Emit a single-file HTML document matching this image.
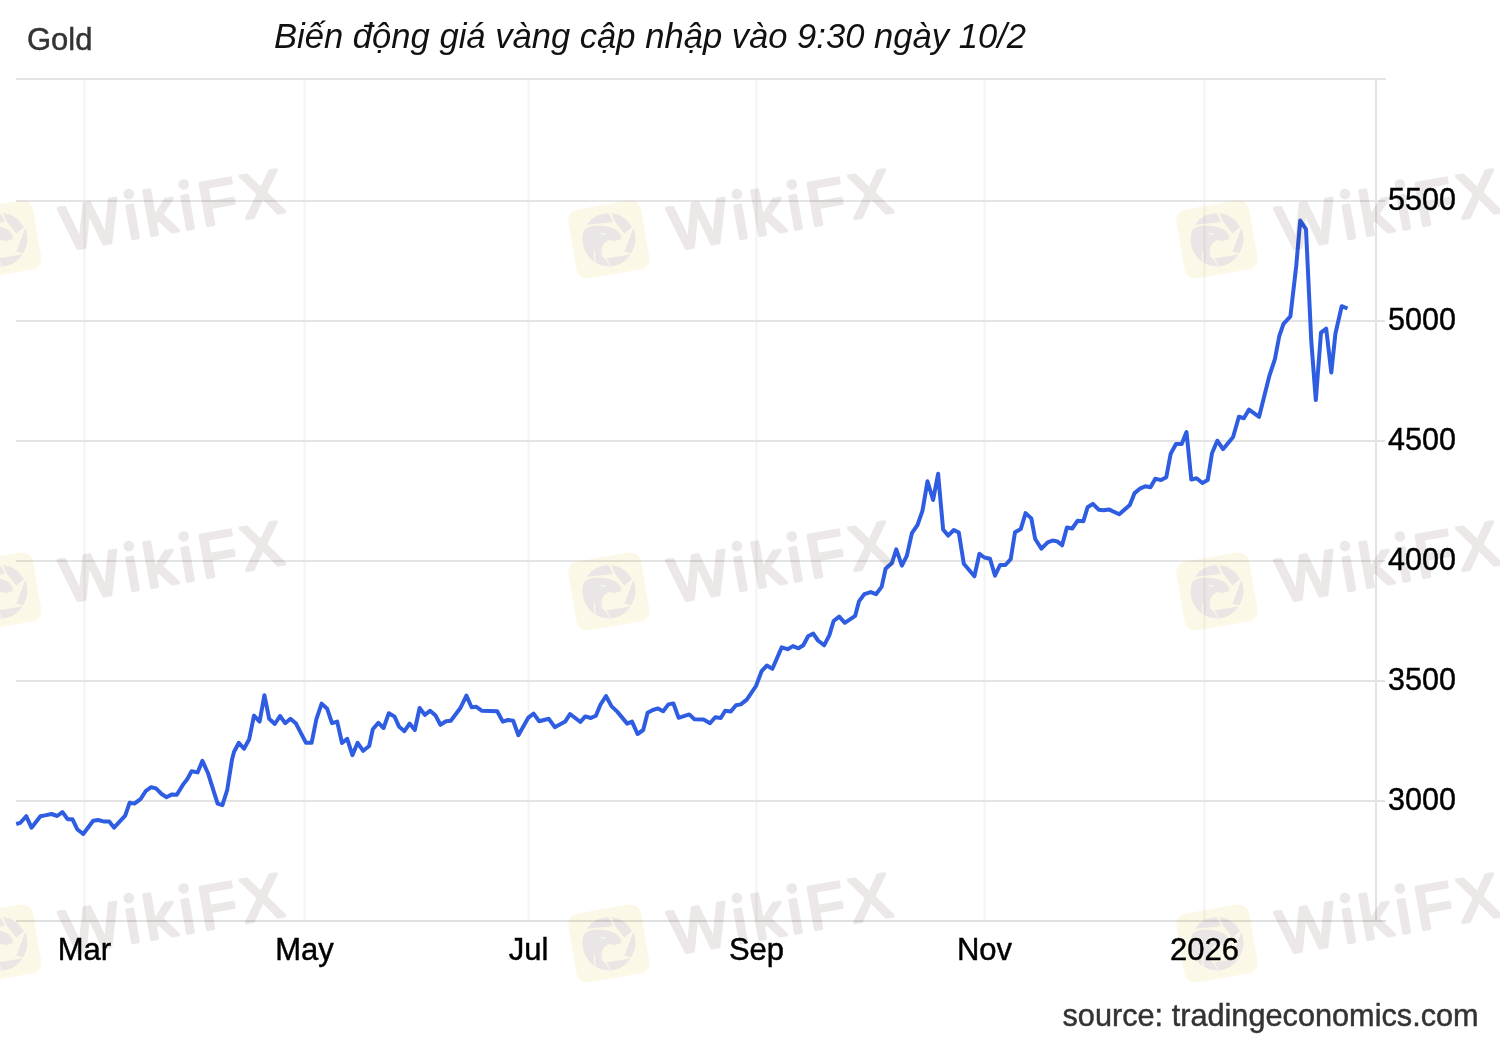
<!DOCTYPE html>
<html><head><meta charset="utf-8"><style>
html,body{margin:0;padding:0;background:#fff;width:1500px;height:1040px;overflow:hidden}
svg{display:block}
text{font-family:"Liberation Sans",sans-serif}
</style></head><body>
<svg width="1500" height="1040" viewBox="0 0 1500 1040">
<rect width="1500" height="1040" fill="#fff"/>
<rect x="83.5" y="80" width="2" height="840" fill="#f2f3f3"/>
<rect x="303.5" y="80" width="2" height="840" fill="#f2f3f3"/>
<rect x="527.5" y="80" width="2" height="840" fill="#f2f3f3"/>
<rect x="755.5" y="80" width="2" height="840" fill="#f2f3f3"/>
<rect x="983.5" y="80" width="2" height="840" fill="#f2f3f3"/>
<rect x="1203.5" y="80" width="2" height="840" fill="#f2f3f3"/>
<rect x="1375" y="80" width="2" height="842" fill="#e3e3e3"/>
<rect x="16" y="78" width="1370" height="2" fill="#e5e5e5"/>
<rect x="16" y="200.0" width="1369" height="2" fill="#e4e4e4"/>
<rect x="16" y="320.0" width="1369" height="2" fill="#e4e4e4"/>
<rect x="16" y="440.0" width="1369" height="2" fill="#e4e4e4"/>
<rect x="16" y="560.0" width="1369" height="2" fill="#e4e4e4"/>
<rect x="16" y="680.0" width="1369" height="2" fill="#e4e4e4"/>
<rect x="16" y="800.0" width="1369" height="2" fill="#e4e4e4"/>
<rect x="16" y="920" width="1370" height="2" fill="#e0e0e0"/>
<text x="27" y="50" font-size="31" fill="#333" stroke="#333" stroke-width="0.45">Gold</text>
<text x="274" y="48" font-size="35" font-style="italic" fill="#111" textLength="752" lengthAdjust="spacingAndGlyphs">Biến động giá vàng cập nhập vào 9:30 ngày 10/2</text>
<text x="1388" y="210.2" font-size="30.5" fill="#000" stroke="#000" stroke-width="0.45">5500</text>
<text x="1388" y="330.2" font-size="30.5" fill="#000" stroke="#000" stroke-width="0.45">5000</text>
<text x="1388" y="450.2" font-size="30.5" fill="#000" stroke="#000" stroke-width="0.45">4500</text>
<text x="1388" y="570.2" font-size="30.5" fill="#000" stroke="#000" stroke-width="0.45">4000</text>
<text x="1388" y="690.2" font-size="30.5" fill="#000" stroke="#000" stroke-width="0.45">3500</text>
<text x="1388" y="810.2" font-size="30.5" fill="#000" stroke="#000" stroke-width="0.45">3000</text>
<text x="84.5" y="960" font-size="31" fill="#000" stroke="#000" stroke-width="0.45" text-anchor="middle">Mar</text>
<text x="304.5" y="960" font-size="31" fill="#000" stroke="#000" stroke-width="0.45" text-anchor="middle">May</text>
<text x="528.5" y="960" font-size="31" fill="#000" stroke="#000" stroke-width="0.45" text-anchor="middle">Jul</text>
<text x="756.5" y="960" font-size="31" fill="#000" stroke="#000" stroke-width="0.45" text-anchor="middle">Sep</text>
<text x="984.5" y="960" font-size="31" fill="#000" stroke="#000" stroke-width="0.45" text-anchor="middle">Nov</text>
<text x="1204.5" y="960" font-size="31" fill="#000" stroke="#000" stroke-width="0.45" text-anchor="middle">2026</text>
<text x="1062.5" y="1026" font-size="30.7" fill="#333" stroke="#333" stroke-width="0.45">source: tradingeconomics.com</text>
<path d="M16.2 824.0 L20.4 822.8 L26.2 816.2 L31.5 827.7 L40.4 816.2 L45.0 815.4 L51.6 814.0 L57.2 816.0 L62.4 812.0 L67.6 819.2 L72.4 819.2 L77.2 829.2 L83.2 834.0 L93.2 820.8 L98.0 820.0 L104.4 821.6 L109.2 821.6 L114.0 827.6 L125.2 815.6 L129.6 802.8 L134.4 803.6 L140.8 798.8 L145.6 791.2 L151.2 787.2 L156.0 788.4 L161.6 794.0 L166.4 797.2 L172.0 794.4 L176.8 794.8 L183.2 784.4 L187.2 779.2 L191.6 771.2 L197.6 772.4 L202.4 760.8 L208.0 773.2 L217.6 803.6 L222.4 805.2 L227.2 790.0 L232.0 759.6 L234.0 752.0 L238.8 742.8 L244.0 748.8 L249.2 739.2 L254.0 715.6 L259.6 721.6 L264.4 695.2 L269.2 718.8 L274.8 724.0 L280.0 716.0 L285.2 723.2 L290.4 718.8 L296.0 723.6 L306.0 742.8 L311.6 742.8 L316.4 719.2 L321.6 703.6 L327.2 708.8 L332.0 723.2 L337.2 721.6 L342.0 743.0 L347.2 738.8 L352.4 755.2 L357.6 742.8 L363.2 750.8 L369.2 746.0 L372.8 729.2 L378.4 722.8 L383.6 728.0 L388.8 713.2 L394.4 716.4 L399.2 726.8 L404.4 731.2 L409.6 723.6 L414.8 730.0 L419.6 708.0 L424.8 714.8 L430.0 710.8 L435.6 715.6 L440.4 724.8 L446.0 721.2 L450.8 720.8 L460.4 708.0 L466.4 695.6 L471.6 707.2 L476.4 706.8 L482.0 710.8 L497.2 711.2 L502.8 721.6 L508.0 720.0 L513.2 720.8 L518.4 735.2 L528.4 717.6 L533.6 713.6 L539.2 721.2 L548.8 718.8 L554.8 727.2 L565.2 721.6 L570.0 714.0 L580.4 722.0 L585.2 716.4 L590.8 718.0 L596.0 715.6 L600.4 704.8 L606.0 696.0 L611.6 706.4 L617.2 711.6 L627.2 723.6 L632.0 721.6 L637.6 734.0 L643.2 730.0 L647.6 712.8 L652.8 710.0 L658.0 708.4 L663.2 711.2 L668.4 704.4 L673.4 703.4 L678.6 717.8 L689.2 714.4 L694.4 719.2 L703.6 719.6 L710.0 723.2 L715.2 717.2 L720.8 718.0 L725.2 710.8 L730.8 711.6 L736.0 705.2 L740.8 704.4 L746.8 699.6 L756.0 686.0 L761.6 671.2 L766.8 665.6 L772.4 668.8 L781.7 647.4 L787.7 649.2 L792.9 646.1 L798.5 648.3 L803.3 645.3 L808.1 636.2 L813.3 633.6 L818.0 640.5 L824.1 645.3 L829.3 635.3 L833.6 621.0 L839.2 616.7 L844.8 622.8 L855.2 615.8 L859.1 601.1 L864.3 594.2 L870.8 592.1 L876.0 594.2 L881.6 586.9 L885.6 568.8 L891.9 563.1 L896.3 549.4 L901.9 565.6 L906.9 555.6 L911.9 533.1 L917.5 525.0 L922.5 510.6 L927.5 481.3 L933.1 500.0 L938.1 473.8 L943.1 529.4 L948.1 535.6 L953.8 530.0 L958.8 532.5 L963.8 563.8 L974.4 576.3 L979.4 553.8 L984.4 557.5 L990.0 558.8 L995.0 575.6 L1000.1 565.0 L1005.4 565.0 L1010.7 559.2 L1015.0 532.3 L1020.8 528.9 L1025.6 513.1 L1031.3 518.4 L1035.2 539.0 L1041.4 548.7 L1047.7 542.4 L1052.5 540.5 L1057.3 541.4 L1062.1 545.3 L1066.9 527.5 L1072.2 528.5 L1077.5 520.8 L1083.3 521.3 L1087.6 507.3 L1092.9 503.9 L1098.7 509.7 L1103.5 510.2 L1108.7 509.4 L1119.2 514.2 L1129.8 505.1 L1134.6 493.1 L1140.4 488.3 L1145.2 486.3 L1150.5 487.3 L1155.3 478.7 L1161.1 480.1 L1166.3 477.2 L1170.7 453.7 L1176.0 444.0 L1181.7 444.0 L1186.5 432.0 L1191.3 479.6 L1196.6 478.2 L1202.4 483.0 L1207.7 480.1 L1212.0 453.2 L1217.3 440.7 L1223.0 449.2 L1233.1 437.0 L1238.9 416.8 L1243.9 418.2 L1249.0 409.6 L1259.1 416.8 L1269.2 376.4 L1274.9 359.1 L1279.3 336.0 L1283.5 323.8 L1290.4 316.3 L1296.2 266.2 L1300.2 220.6 L1306.0 229.2 L1311.2 340.0 L1315.8 400.0 L1321.0 332.7 L1326.2 328.7 L1331.3 372.5 L1335.4 333.8 L1341.7 306.2 L1347.5 308.5" fill="none" stroke="#2f5de2" stroke-width="4" stroke-linejoin="round" stroke-linecap="butt"/>
<g transform="translate(0.7 239.5)" style="mix-blend-mode:multiply">
  <g transform="rotate(-9.7)"><rect x="-37" y="-35" width="74" height="70" rx="11" fill="#fcf8e8"/></g>
  <g fill="#eae6e5" transform="translate(0.6 0.5)">
    <path d="M-25.1 -10.2 L-20.8 -13.3 L-12.1 -14.4 L-3.5 -13.8 L2.9 -12.1 L8.1 -9.2 L11 -5.2 L12.1 -1.2 L5.2 1.2 L-1.2 0.6 L-5.2 3.5 L-7.5 7.5 L-8.1 11.5 L-6.9 16.2 L-3.5 20.2 L0.6 26.5 A27 27 0 0 1 -25.1 -10.2 Z"/>
    <path d="M-22.6 -15.2 A27 27 0 0 1 -1.2 -27 L3.5 -19 L1.7 -17.6 Z"/>
    <path d="M1.7 -27 A27 27 0 0 1 22.5 -13 L15 -6.3 L5.2 -19 Z"/>
    <path d="M23.7 -11.8 A27 27 0 0 1 21.9 13.2 L15 12.1 Z"/>
    <path d="M21.3 14.2 A27 27 0 0 1 1.7 26.6 L-3.5 18.5 Z"/>
    <g stroke="#fcf8e8" fill="none" stroke-width="1.1"><path d="M-8.8 -6.8 L-3.6 -5.6"/><path d="M-15 10.4 L-14.4 24.8"/><path d="M-1.2 0.8 L6 1.5"/></g>
  </g>
  <g transform="rotate(-10)" fill="#ebe8e7"><text x="62" y="22" dx="0 -1.7 -1.7 -1.7 -1.7 0" font-family="Liberation Sans" font-weight="normal" font-size="62" letter-spacing="5.5" stroke="#ebe8e7" stroke-width="3.5" stroke-linejoin="round" stroke-linecap="round">WıkıFX</text><circle cx="134" cy="-22.5" r="5.3"/><circle cx="189.8" cy="-22.5" r="5.3"/></g>
</g>
<g transform="translate(0.7 591.5)" style="mix-blend-mode:multiply">
  <g transform="rotate(-9.7)"><rect x="-37" y="-35" width="74" height="70" rx="11" fill="#fcf8e8"/></g>
  <g fill="#eae6e5" transform="translate(0.6 0.5)">
    <path d="M-25.1 -10.2 L-20.8 -13.3 L-12.1 -14.4 L-3.5 -13.8 L2.9 -12.1 L8.1 -9.2 L11 -5.2 L12.1 -1.2 L5.2 1.2 L-1.2 0.6 L-5.2 3.5 L-7.5 7.5 L-8.1 11.5 L-6.9 16.2 L-3.5 20.2 L0.6 26.5 A27 27 0 0 1 -25.1 -10.2 Z"/>
    <path d="M-22.6 -15.2 A27 27 0 0 1 -1.2 -27 L3.5 -19 L1.7 -17.6 Z"/>
    <path d="M1.7 -27 A27 27 0 0 1 22.5 -13 L15 -6.3 L5.2 -19 Z"/>
    <path d="M23.7 -11.8 A27 27 0 0 1 21.9 13.2 L15 12.1 Z"/>
    <path d="M21.3 14.2 A27 27 0 0 1 1.7 26.6 L-3.5 18.5 Z"/>
    <g stroke="#fcf8e8" fill="none" stroke-width="1.1"><path d="M-8.8 -6.8 L-3.6 -5.6"/><path d="M-15 10.4 L-14.4 24.8"/><path d="M-1.2 0.8 L6 1.5"/></g>
  </g>
  <g transform="rotate(-10)" fill="#ebe8e7"><text x="62" y="22" dx="0 -1.7 -1.7 -1.7 -1.7 0" font-family="Liberation Sans" font-weight="normal" font-size="62" letter-spacing="5.5" stroke="#ebe8e7" stroke-width="3.5" stroke-linejoin="round" stroke-linecap="round">WıkıFX</text><circle cx="134" cy="-22.5" r="5.3"/><circle cx="189.8" cy="-22.5" r="5.3"/></g>
</g>
<g transform="translate(0.7 943.5)" style="mix-blend-mode:multiply">
  <g transform="rotate(-9.7)"><rect x="-37" y="-35" width="74" height="70" rx="11" fill="#fcf8e8"/></g>
  <g fill="#eae6e5" transform="translate(0.6 0.5)">
    <path d="M-25.1 -10.2 L-20.8 -13.3 L-12.1 -14.4 L-3.5 -13.8 L2.9 -12.1 L8.1 -9.2 L11 -5.2 L12.1 -1.2 L5.2 1.2 L-1.2 0.6 L-5.2 3.5 L-7.5 7.5 L-8.1 11.5 L-6.9 16.2 L-3.5 20.2 L0.6 26.5 A27 27 0 0 1 -25.1 -10.2 Z"/>
    <path d="M-22.6 -15.2 A27 27 0 0 1 -1.2 -27 L3.5 -19 L1.7 -17.6 Z"/>
    <path d="M1.7 -27 A27 27 0 0 1 22.5 -13 L15 -6.3 L5.2 -19 Z"/>
    <path d="M23.7 -11.8 A27 27 0 0 1 21.9 13.2 L15 12.1 Z"/>
    <path d="M21.3 14.2 A27 27 0 0 1 1.7 26.6 L-3.5 18.5 Z"/>
    <g stroke="#fcf8e8" fill="none" stroke-width="1.1"><path d="M-8.8 -6.8 L-3.6 -5.6"/><path d="M-15 10.4 L-14.4 24.8"/><path d="M-1.2 0.8 L6 1.5"/></g>
  </g>
  <g transform="rotate(-10)" fill="#ebe8e7"><text x="62" y="22" dx="0 -1.7 -1.7 -1.7 -1.7 0" font-family="Liberation Sans" font-weight="normal" font-size="62" letter-spacing="5.5" stroke="#ebe8e7" stroke-width="3.5" stroke-linejoin="round" stroke-linecap="round">WıkıFX</text><circle cx="134" cy="-22.5" r="5.3"/><circle cx="189.8" cy="-22.5" r="5.3"/></g>
</g>
<g transform="translate(608.8 239.5)" style="mix-blend-mode:multiply">
  <g transform="rotate(-9.7)"><rect x="-37" y="-35" width="74" height="70" rx="11" fill="#fcf8e8"/></g>
  <g fill="#eae6e5" transform="translate(0.6 0.5)">
    <path d="M-25.1 -10.2 L-20.8 -13.3 L-12.1 -14.4 L-3.5 -13.8 L2.9 -12.1 L8.1 -9.2 L11 -5.2 L12.1 -1.2 L5.2 1.2 L-1.2 0.6 L-5.2 3.5 L-7.5 7.5 L-8.1 11.5 L-6.9 16.2 L-3.5 20.2 L0.6 26.5 A27 27 0 0 1 -25.1 -10.2 Z"/>
    <path d="M-22.6 -15.2 A27 27 0 0 1 -1.2 -27 L3.5 -19 L1.7 -17.6 Z"/>
    <path d="M1.7 -27 A27 27 0 0 1 22.5 -13 L15 -6.3 L5.2 -19 Z"/>
    <path d="M23.7 -11.8 A27 27 0 0 1 21.9 13.2 L15 12.1 Z"/>
    <path d="M21.3 14.2 A27 27 0 0 1 1.7 26.6 L-3.5 18.5 Z"/>
    <g stroke="#fcf8e8" fill="none" stroke-width="1.1"><path d="M-8.8 -6.8 L-3.6 -5.6"/><path d="M-15 10.4 L-14.4 24.8"/><path d="M-1.2 0.8 L6 1.5"/></g>
  </g>
  <g transform="rotate(-10)" fill="#ebe8e7"><text x="62" y="22" dx="0 -1.7 -1.7 -1.7 -1.7 0" font-family="Liberation Sans" font-weight="normal" font-size="62" letter-spacing="5.5" stroke="#ebe8e7" stroke-width="3.5" stroke-linejoin="round" stroke-linecap="round">WıkıFX</text><circle cx="134" cy="-22.5" r="5.3"/><circle cx="189.8" cy="-22.5" r="5.3"/></g>
</g>
<g transform="translate(608.8 591.5)" style="mix-blend-mode:multiply">
  <g transform="rotate(-9.7)"><rect x="-37" y="-35" width="74" height="70" rx="11" fill="#fcf8e8"/></g>
  <g fill="#eae6e5" transform="translate(0.6 0.5)">
    <path d="M-25.1 -10.2 L-20.8 -13.3 L-12.1 -14.4 L-3.5 -13.8 L2.9 -12.1 L8.1 -9.2 L11 -5.2 L12.1 -1.2 L5.2 1.2 L-1.2 0.6 L-5.2 3.5 L-7.5 7.5 L-8.1 11.5 L-6.9 16.2 L-3.5 20.2 L0.6 26.5 A27 27 0 0 1 -25.1 -10.2 Z"/>
    <path d="M-22.6 -15.2 A27 27 0 0 1 -1.2 -27 L3.5 -19 L1.7 -17.6 Z"/>
    <path d="M1.7 -27 A27 27 0 0 1 22.5 -13 L15 -6.3 L5.2 -19 Z"/>
    <path d="M23.7 -11.8 A27 27 0 0 1 21.9 13.2 L15 12.1 Z"/>
    <path d="M21.3 14.2 A27 27 0 0 1 1.7 26.6 L-3.5 18.5 Z"/>
    <g stroke="#fcf8e8" fill="none" stroke-width="1.1"><path d="M-8.8 -6.8 L-3.6 -5.6"/><path d="M-15 10.4 L-14.4 24.8"/><path d="M-1.2 0.8 L6 1.5"/></g>
  </g>
  <g transform="rotate(-10)" fill="#ebe8e7"><text x="62" y="22" dx="0 -1.7 -1.7 -1.7 -1.7 0" font-family="Liberation Sans" font-weight="normal" font-size="62" letter-spacing="5.5" stroke="#ebe8e7" stroke-width="3.5" stroke-linejoin="round" stroke-linecap="round">WıkıFX</text><circle cx="134" cy="-22.5" r="5.3"/><circle cx="189.8" cy="-22.5" r="5.3"/></g>
</g>
<g transform="translate(608.8 943.5)" style="mix-blend-mode:multiply">
  <g transform="rotate(-9.7)"><rect x="-37" y="-35" width="74" height="70" rx="11" fill="#fcf8e8"/></g>
  <g fill="#eae6e5" transform="translate(0.6 0.5)">
    <path d="M-25.1 -10.2 L-20.8 -13.3 L-12.1 -14.4 L-3.5 -13.8 L2.9 -12.1 L8.1 -9.2 L11 -5.2 L12.1 -1.2 L5.2 1.2 L-1.2 0.6 L-5.2 3.5 L-7.5 7.5 L-8.1 11.5 L-6.9 16.2 L-3.5 20.2 L0.6 26.5 A27 27 0 0 1 -25.1 -10.2 Z"/>
    <path d="M-22.6 -15.2 A27 27 0 0 1 -1.2 -27 L3.5 -19 L1.7 -17.6 Z"/>
    <path d="M1.7 -27 A27 27 0 0 1 22.5 -13 L15 -6.3 L5.2 -19 Z"/>
    <path d="M23.7 -11.8 A27 27 0 0 1 21.9 13.2 L15 12.1 Z"/>
    <path d="M21.3 14.2 A27 27 0 0 1 1.7 26.6 L-3.5 18.5 Z"/>
    <g stroke="#fcf8e8" fill="none" stroke-width="1.1"><path d="M-8.8 -6.8 L-3.6 -5.6"/><path d="M-15 10.4 L-14.4 24.8"/><path d="M-1.2 0.8 L6 1.5"/></g>
  </g>
  <g transform="rotate(-10)" fill="#ebe8e7"><text x="62" y="22" dx="0 -1.7 -1.7 -1.7 -1.7 0" font-family="Liberation Sans" font-weight="normal" font-size="62" letter-spacing="5.5" stroke="#ebe8e7" stroke-width="3.5" stroke-linejoin="round" stroke-linecap="round">WıkıFX</text><circle cx="134" cy="-22.5" r="5.3"/><circle cx="189.8" cy="-22.5" r="5.3"/></g>
</g>
<g transform="translate(1216.9 239.5)" style="mix-blend-mode:multiply">
  <g transform="rotate(-9.7)"><rect x="-37" y="-35" width="74" height="70" rx="11" fill="#fcf8e8"/></g>
  <g fill="#eae6e5" transform="translate(0.6 0.5)">
    <path d="M-25.1 -10.2 L-20.8 -13.3 L-12.1 -14.4 L-3.5 -13.8 L2.9 -12.1 L8.1 -9.2 L11 -5.2 L12.1 -1.2 L5.2 1.2 L-1.2 0.6 L-5.2 3.5 L-7.5 7.5 L-8.1 11.5 L-6.9 16.2 L-3.5 20.2 L0.6 26.5 A27 27 0 0 1 -25.1 -10.2 Z"/>
    <path d="M-22.6 -15.2 A27 27 0 0 1 -1.2 -27 L3.5 -19 L1.7 -17.6 Z"/>
    <path d="M1.7 -27 A27 27 0 0 1 22.5 -13 L15 -6.3 L5.2 -19 Z"/>
    <path d="M23.7 -11.8 A27 27 0 0 1 21.9 13.2 L15 12.1 Z"/>
    <path d="M21.3 14.2 A27 27 0 0 1 1.7 26.6 L-3.5 18.5 Z"/>
    <g stroke="#fcf8e8" fill="none" stroke-width="1.1"><path d="M-8.8 -6.8 L-3.6 -5.6"/><path d="M-15 10.4 L-14.4 24.8"/><path d="M-1.2 0.8 L6 1.5"/></g>
  </g>
  <g transform="rotate(-10)" fill="#ebe8e7"><text x="62" y="22" dx="0 -1.7 -1.7 -1.7 -1.7 0" font-family="Liberation Sans" font-weight="normal" font-size="62" letter-spacing="5.5" stroke="#ebe8e7" stroke-width="3.5" stroke-linejoin="round" stroke-linecap="round">WıkıFX</text><circle cx="134" cy="-22.5" r="5.3"/><circle cx="189.8" cy="-22.5" r="5.3"/></g>
</g>
<g transform="translate(1216.9 591.5)" style="mix-blend-mode:multiply">
  <g transform="rotate(-9.7)"><rect x="-37" y="-35" width="74" height="70" rx="11" fill="#fcf8e8"/></g>
  <g fill="#eae6e5" transform="translate(0.6 0.5)">
    <path d="M-25.1 -10.2 L-20.8 -13.3 L-12.1 -14.4 L-3.5 -13.8 L2.9 -12.1 L8.1 -9.2 L11 -5.2 L12.1 -1.2 L5.2 1.2 L-1.2 0.6 L-5.2 3.5 L-7.5 7.5 L-8.1 11.5 L-6.9 16.2 L-3.5 20.2 L0.6 26.5 A27 27 0 0 1 -25.1 -10.2 Z"/>
    <path d="M-22.6 -15.2 A27 27 0 0 1 -1.2 -27 L3.5 -19 L1.7 -17.6 Z"/>
    <path d="M1.7 -27 A27 27 0 0 1 22.5 -13 L15 -6.3 L5.2 -19 Z"/>
    <path d="M23.7 -11.8 A27 27 0 0 1 21.9 13.2 L15 12.1 Z"/>
    <path d="M21.3 14.2 A27 27 0 0 1 1.7 26.6 L-3.5 18.5 Z"/>
    <g stroke="#fcf8e8" fill="none" stroke-width="1.1"><path d="M-8.8 -6.8 L-3.6 -5.6"/><path d="M-15 10.4 L-14.4 24.8"/><path d="M-1.2 0.8 L6 1.5"/></g>
  </g>
  <g transform="rotate(-10)" fill="#ebe8e7"><text x="62" y="22" dx="0 -1.7 -1.7 -1.7 -1.7 0" font-family="Liberation Sans" font-weight="normal" font-size="62" letter-spacing="5.5" stroke="#ebe8e7" stroke-width="3.5" stroke-linejoin="round" stroke-linecap="round">WıkıFX</text><circle cx="134" cy="-22.5" r="5.3"/><circle cx="189.8" cy="-22.5" r="5.3"/></g>
</g>
<g transform="translate(1216.9 943.5)" style="mix-blend-mode:multiply">
  <g transform="rotate(-9.7)"><rect x="-37" y="-35" width="74" height="70" rx="11" fill="#fcf8e8"/></g>
  <g fill="#eae6e5" transform="translate(0.6 0.5)">
    <path d="M-25.1 -10.2 L-20.8 -13.3 L-12.1 -14.4 L-3.5 -13.8 L2.9 -12.1 L8.1 -9.2 L11 -5.2 L12.1 -1.2 L5.2 1.2 L-1.2 0.6 L-5.2 3.5 L-7.5 7.5 L-8.1 11.5 L-6.9 16.2 L-3.5 20.2 L0.6 26.5 A27 27 0 0 1 -25.1 -10.2 Z"/>
    <path d="M-22.6 -15.2 A27 27 0 0 1 -1.2 -27 L3.5 -19 L1.7 -17.6 Z"/>
    <path d="M1.7 -27 A27 27 0 0 1 22.5 -13 L15 -6.3 L5.2 -19 Z"/>
    <path d="M23.7 -11.8 A27 27 0 0 1 21.9 13.2 L15 12.1 Z"/>
    <path d="M21.3 14.2 A27 27 0 0 1 1.7 26.6 L-3.5 18.5 Z"/>
    <g stroke="#fcf8e8" fill="none" stroke-width="1.1"><path d="M-8.8 -6.8 L-3.6 -5.6"/><path d="M-15 10.4 L-14.4 24.8"/><path d="M-1.2 0.8 L6 1.5"/></g>
  </g>
  <g transform="rotate(-10)" fill="#ebe8e7"><text x="62" y="22" dx="0 -1.7 -1.7 -1.7 -1.7 0" font-family="Liberation Sans" font-weight="normal" font-size="62" letter-spacing="5.5" stroke="#ebe8e7" stroke-width="3.5" stroke-linejoin="round" stroke-linecap="round">WıkıFX</text><circle cx="134" cy="-22.5" r="5.3"/><circle cx="189.8" cy="-22.5" r="5.3"/></g>
</g>
</svg></body></html>
